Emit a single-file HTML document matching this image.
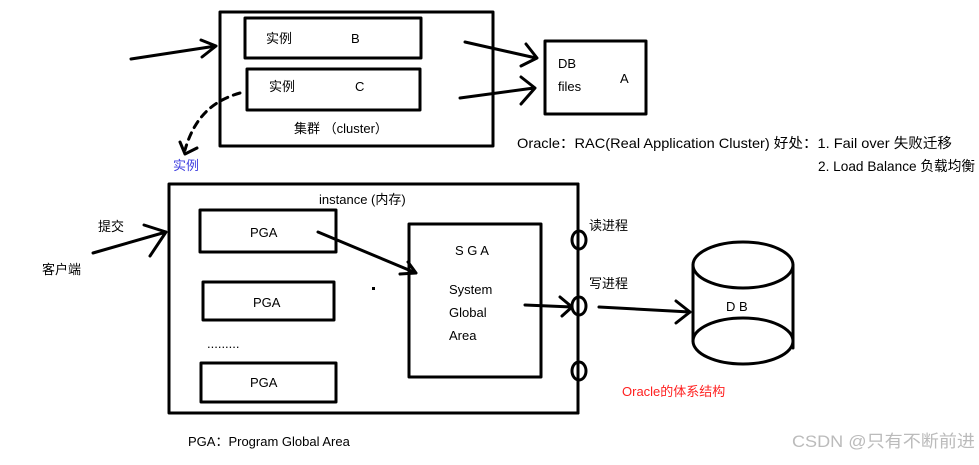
<!DOCTYPE html>
<html><head><meta charset="utf-8"><style>
html,body{margin:0;padding:0;background:#fff;}
svg text{font-family:"Liberation Sans","Noto Sans CJK SC",sans-serif;font-size:13px;fill:#000;}
</style></head><body>
<svg width="979" height="460" viewBox="0 0 979 460" xmlns="http://www.w3.org/2000/svg">
<g fill="none" stroke="#000" stroke-width="3" stroke-linecap="round" stroke-linejoin="round">
<rect x="220" y="12" width="273" height="134"/>
<rect x="245" y="18" width="176" height="40"/>
<rect x="247" y="69" width="173" height="41"/>
<rect x="545" y="41" width="101" height="73"/>
<path d="M131 59 L216 46 M201 40 L216 46 L202 57"/>
<path d="M465 42 L536 58 M526 44 L537 58 L521 66"/>
<path d="M460 98 L534 88 M521 77 L535 88 L521 104"/>
<path d="M240 93 C215 100 195 115 185 150" stroke-dasharray="7,6"/>
<path d="M180 142 L185 154 L197 148"/>
<rect x="169" y="184" width="409" height="229"/>
<rect x="200" y="210" width="136" height="42"/>
<rect x="203" y="282" width="131" height="38"/>
<rect x="201" y="363" width="135" height="39"/>
<rect x="409" y="224" width="132" height="153"/>
<line x1="578" y1="184" x2="578" y2="413"/>
<ellipse cx="579" cy="240" rx="7" ry="9"/>
<ellipse cx="579" cy="306" rx="7" ry="9"/>
<ellipse cx="579" cy="371" rx="7" ry="9"/>
<path d="M93 253 L166 232 M144 225 L166 232 L150 256"/>
<path d="M318 232 L416 273 M408 262 L416 273 L400 274"/>
<path d="M525 305 L572 307 M560 297 L572 307 L562 316"/>
<path d="M599 307 L690 312 M676 301 L690 312 L676 323"/>
<ellipse cx="743" cy="265" rx="50" ry="23"/>
<ellipse cx="743" cy="341" rx="50" ry="23"/>
<line x1="693" y1="265" x2="693" y2="341"/>
<line x1="793" y1="265" x2="793" y2="348"/>
</g>
<rect x="372" y="287" width="3" height="3" fill="#000"/>
<text x="266" y="43">实例</text><text x="351" y="43">B</text>
<text x="269" y="91">实例</text><text x="355" y="91">C</text>
<text x="294" y="133">集群 （cluster）</text>
<text x="558" y="68">DB</text><text x="558" y="91">files</text><text x="620" y="83">A</text>
<text x="173" y="170" style="fill:#4040e0">实例</text>
<text x="517" y="148" style="font-size:14px" textLength="435" lengthAdjust="spacingAndGlyphs">Oracle：RAC(Real  Application  Cluster)  好处：1. Fail over   失败迁移</text>
<text x="818" y="171" style="font-size:14px" textLength="157" lengthAdjust="spacingAndGlyphs">2.  Load Balance 负载均衡</text>
<text x="319" y="204">instance (内存)</text>
<text x="98" y="231">提交</text>
<text x="42" y="274">客户端</text>
<text x="250" y="237">PGA</text>
<text x="253" y="307">PGA</text>
<text x="207" y="348">.........</text>
<text x="250" y="387">PGA</text>
<text x="455" y="255">S G A</text>
<text x="449" y="294">System</text>
<text x="449" y="317">Global</text>
<text x="449" y="340">Area</text>
<text x="589" y="230">读进程</text>
<text x="589" y="288">写进程</text>
<text x="726" y="311">D  B</text>
<text x="622" y="396" style="fill:#ff2020">Oracle的体系结构</text>
<text x="188" y="446">PGA：Program Global Area</text>
<text x="792" y="447" style="fill:#bbb;font-size:17px" textLength="183" lengthAdjust="spacingAndGlyphs">CSDN @只有不断前进</text>
</svg>
</body></html>
